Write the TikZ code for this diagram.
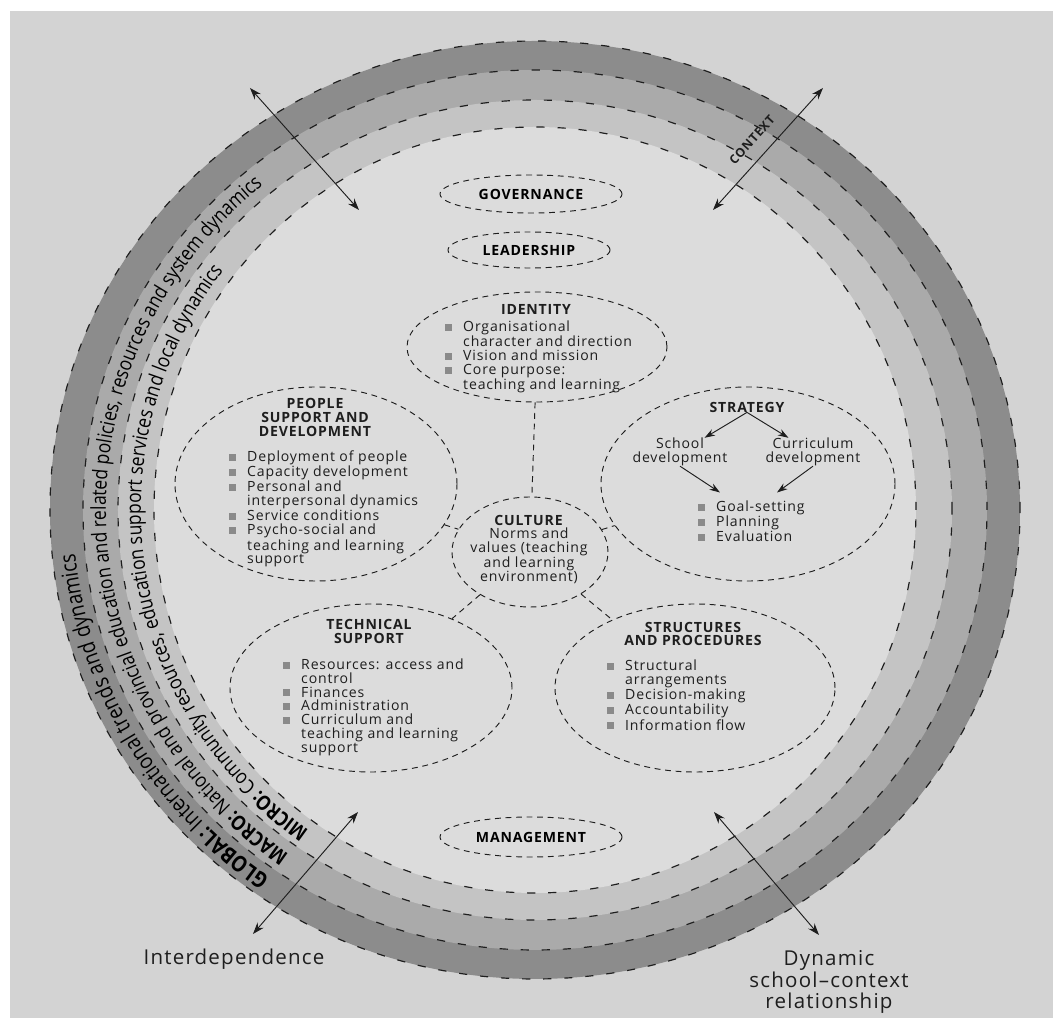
\documentclass[tikz,border=0pt]{standalone}
\usepackage{fontspec}
\setmainfont{Open Sans}[LetterSpace=6]
\newfontfamily\ringfont{Open Sans}[FakeStretch=0.85]
\usepackage{xcolor}
\definecolor{paper-grey}{HTML}{D3D3D3}
\definecolor{inner-grey}{HTML}{DCDCDC}
\definecolor{micro-grey}{HTML}{C4C4C4}
\definecolor{macro-grey}{HTML}{AAAAAA}
\definecolor{global-grey}{HTML}{8C8C8C}
\definecolor{ink}{HTML}{1E1E1E}
\definecolor{square-grey}{HTML}{8A8A8A}
\usepackage{tikz}
\usetikzlibrary{shapes.geometric, arrows.meta, decorations.text}

\newcommand{\bulletsq}{\makebox[0.54cm][l]{\textcolor{square-grey}{\rule[0.02cm]{0.21cm}{0.21cm}}}}
\newcommand{\carry}{\hspace*{0.54cm}}
\newcommand{\ringtext}{\ringfont\fontsize{17.5}{20}\selectfont}
\newcommand{\ringbold}{\ringtext\bfseries}
\newcommand{\globaltext}{\ringfont\fontsize{19}{20}\selectfont}
\newcommand{\globalbold}{\globaltext\bfseries}

\begin{document}
\begin{tikzpicture}[x=0.03cm, y=0.03cm,
    part/.style={ellipse, draw=ink, line width=0.8pt, dash pattern=on 5pt off 4pt, inner sep=0pt},
    heading/.style={font=\bfseries\fontsize{12}{11.8}\selectfont, align=center, text=ink, inner sep=0pt},
    plain/.style={font=\fontsize{12}{11.8}\selectfont, align=center, text=ink, inner sep=0pt},
    itemlist/.style={font=\fontsize{12}{11.8}\selectfont, align=left, anchor=north west, text=ink, inner sep=0pt},
    ring/.style={draw=ink, line width=1pt, dash pattern=on 7pt off 11pt},
    link/.style={draw=ink, line width=0.8pt, dash pattern=on 5pt off 4pt},
    twoway/.style={{Stealth[length=10pt,width=7pt]}-{Stealth[length=10pt,width=7pt]}, line width=0.8pt, draw=ink},
    oneway/.style={-{Stealth[length=9pt,width=6pt]}, line width=0.8pt, draw=ink},
    bigtext/.style={font=\fontsize{17.5}{18.7}\selectfont, align=center, text=ink, inner sep=0pt}]

    % Page
    \useasboundingbox (-535,-511) rectangle (518,510);
    \fill[white] (-535,-511) rectangle (518,510);
    \fill[paper-grey] (-525,-508) rectangle (518,499);

    % Rings
    \fill[global-grey] (0,0) ellipse [x radius=485, y radius=469];
    \fill[macro-grey] (0,0) ellipse [x radius=452, y radius=440];
    \fill[micro-grey] (0,0) ellipse [x radius=417, y radius=410];
    \fill[inner-grey] (0,0) ellipse [x radius=381, y radius=383];
    \draw[ring] (0,0) ellipse [x radius=485, y radius=469];
    \draw[ring] (0,0) ellipse [x radius=452, y radius=440];
    \draw[ring] (0,0) ellipse [x radius=417, y radius=410];
    \draw[ring] (0,0) ellipse [x radius=381, y radius=383];

    % Ring texts
    \path[decorate, decoration={text along path, text align=left,
        text={|\globalbold|GLOBAL: |\globaltext|International trends and dynamics}}]
        (235:462 and 448) arc[start angle=235, end angle=150, x radius=462, y radius=448];
    \path[decorate, decoration={text along path, text align=left,
        text={|\ringbold|MACRO: |\ringtext|National and provincial education and related policies, resources and system dynamics}}]
        (235:429 and 420) arc[start angle=235, end angle=100, x radius=429, y radius=420];
    \path[decorate, decoration={text along path, text align=left,
        text={|\ringbold|MICRO: |\ringtext|Community resources, education support services and local dynamics}}]
        (235:394 and 391) arc[start angle=235, end angle=110, x radius=394, y radius=391];

    % Context arrows
    \coordinate (nw-in) at (-176,300);
    \coordinate (nw-out) at (-285,422);
    \coordinate (ne-in) at (178,300);
    \coordinate (ne-out) at (288,422);
    \coordinate (sw-in) at (-177,-302);
    \coordinate (sw-out) at (-282,-424);
    \coordinate (se-in) at (179,-302);
    \coordinate (se-out) at (284,-425);
    \draw[twoway] (nw-in) -- (nw-out);
    \draw[twoway] (ne-in) -- (ne-out);
    \draw[twoway] (sw-in) -- (sw-out);
    \draw[twoway] (se-in) -- (se-out);
    \node[font=\bfseries\fontsize{10.5}{12}\selectfont, text=ink, rotate=48, inner sep=0pt] (context) at (217,370) {CONTEXT};

    % Outer labels
    \node[bigtext] (interdependence) at (-301,-449) {Interdependence};
    \node[bigtext] (dynamic) at (294,-472) {Dynamic\\school–context\\relationship};

    % Governance, leadership, management
    \node[part, minimum width=5.46cm, minimum height=1.14cm] (governance) at (-4,316) {\bfseries\fontsize{12}{11.8}\selectfont GOVERNANCE};
    \node[part, minimum width=4.86cm, minimum height=1.08cm] (leadership) at (-6,260) {\bfseries\fontsize{12}{11.8}\selectfont LEADERSHIP};
    \node[part, minimum width=5.46cm, minimum height=1.2cm] (management) at (-4,-327) {\bfseries\fontsize{12}{11.8}\selectfont MANAGEMENT};

    % Identity
    \node[part, minimum width=7.8cm, minimum height=3.3cm] (identity) at (2,163) {};
    \node[heading] (identity-title) at (1,201) {IDENTITY};
    \node[itemlist] (identity-list) at (-90,189.5) {\bulletsq Organisational\\
        \carry character and direction\\
        \bulletsq Vision and mission\\
        \bulletsq Core purpose:\\
        \carry teaching and learning};

    % People support and development
    \node[part, minimum width=8.46cm, minimum height=5.82cm] (people) at (-219,26) {};
    \node[heading] (people-title) at (-220,92.5) {PEOPLE\\SUPPORT AND\\DEVELOPMENT};
    \node[itemlist] (people-list) at (-306,59.5) {\bulletsq Deployment of people\\
        \bulletsq Capacity development\\
        \bulletsq Personal and\\
        \carry interpersonal dynamics\\
        \bulletsq Service conditions\\
        \bulletsq Psycho-social and\\
        \carry teaching and learning\\
        \carry support};

    % Strategy
    \node[part, minimum width=8.82cm, minimum height=5.82cm] (strategy) at (213,26) {};
    \node[heading] (strat-title) at (212,103) {STRATEGY};
    \node[plain] (school) at (145,58) {School\\development};
    \node[plain] (curriculum) at (278,58) {Curriculum\\development};
    \node[itemlist] (strat-list) at (163,9.5) {\bulletsq Goal-setting\\
        \bulletsq Planning\\
        \bulletsq Evaluation};
    \draw[oneway] (strat-title.south) -- (school.30);
    \draw[oneway] (strat-title.south) -- (curriculum.150);
    \draw[oneway] (school.south) -- ([xshift=0.66cm, yshift=0.24cm]strat-list.north west);
    \draw[oneway] (curriculum.south) -- ([xshift=2.37cm, yshift=0.24cm]strat-list.north west);

    % Culture
    \node[part, minimum width=4.68cm, minimum height=3.3cm] (culture) at (-5,-42) {};
    \node[plain] (culture-text) at (-6,-39.5) {\textbf{CULTURE}\\Norms and\\values (teaching\\and learning\\environment)};

    % Technical support
    \node[part, minimum width=8.46cm, minimum height=5.04cm] (technical) at (-164,-178) {};
    \node[heading] (technical-title) at (-166,-121.5) {TECHNICAL\\SUPPORT};
    \node[itemlist] (technical-list) at (-252,-148.5) {\bulletsq Resources: access and\\
        \carry control\\
        \bulletsq Finances\\
        \bulletsq Administration\\
        \bulletsq Curriculum and\\
        \carry teaching and learning\\
        \carry support};

    % Structures and procedures
    \node[part, minimum width=8.4cm, minimum height=5.04cm] (structures) at (160,-178) {};
    \node[heading] (structures-title) at (158,-124) {STRUCTURES\\AND PROCEDURES};
    \node[itemlist] (structures-list) at (72,-149.5) {\bulletsq Structural\\
        \carry arrangements\\
        \bulletsq Decision-making\\
        \bulletsq Accountability\\
        \bulletsq Information flow};

    % Links to culture
    \draw[link] (identity) -- (culture);
    \draw[link] (people) -- (culture);
    \draw[link] (culture) -- (strategy);
    \draw[link] (culture) -- (technical);
    \draw[link] (culture) -- (structures);

\end{tikzpicture}
\end{document}
